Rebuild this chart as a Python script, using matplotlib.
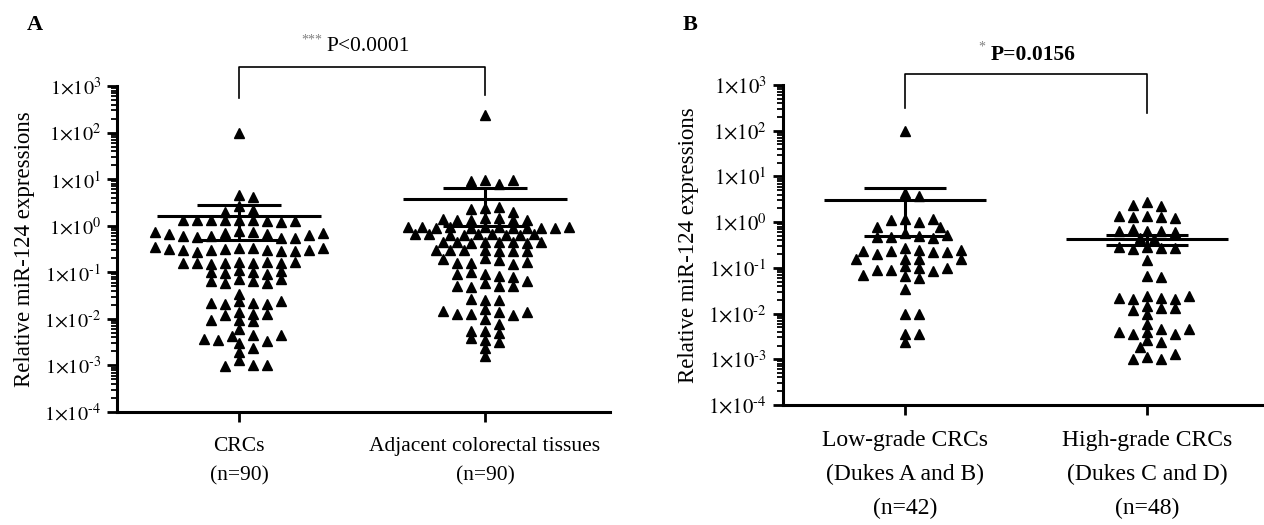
import numpy as np
import matplotlib
matplotlib.use("Agg")
import matplotlib.pyplot as plt
from matplotlib.ticker import FixedLocator, LogLocator, NullFormatter
from matplotlib.transforms import blended_transform_factory

plt.rcParams["font.family"] = "serif"
plt.rcParams["font.serif"] = ["Liberation Serif", "DejaVu Serif"]
plt.rcParams["mathtext.fontset"] = "stix"

# panel A: CRCs vs adjacent tissues (n=90 each)
crc = [100,
       4.5, 4.2,
       2.6, 2.2, 2.0,
       1.35, 1.3, 1.3, 1.25, 1.3, 1.2, 1.3, 1.25, 1.3,
       0.78, 0.75, 0.7, 0.65, 0.6, 0.55, 0.58, 0.55, 0.6, 0.62, 0.65, 0.7, 0.75,
       0.34, 0.33, 0.32, 0.3, 0.3, 0.28, 0.27, 0.28, 0.3, 0.3, 0.32, 0.33, 0.35,
       0.17, 0.16, 0.16, 0.17, 0.15, 0.16, 0.16, 0.17, 0.16,
       0.11, 0.1, 0.095, 0.09, 0.1, 0.105,
       0.07, 0.065, 0.06, 0.065, 0.07, 0.06,
       0.035,
       0.024, 0.022, 0.021, 0.021, 0.022, 0.024,
       0.014, 0.013, 0.012, 0.013,
       0.0095, 0.009, 0.0095,
       0.006,
       0.0045, 0.0042, 0.0035, 0.003, 0.0024, 0.0033, 0.0037, 0.0044,
       0.0019,
       0.0013, 0.001, 0.00095, 0.001]
adjacent = [235,
            9.5, 7.8, 9.2, 9.6,
            2.4, 2.5, 2.3, 2.0,
            1.5, 1.5, 1.35, 1.3, 1.3, 1.3, 1.4,
            0.95, 0.92, 0.9, 0.92, 0.88, 0.9, 0.9, 0.9, 0.93, 0.9, 0.95, 0.92,
            0.66, 0.65, 0.64, 0.62, 0.63, 0.65, 0.66, 0.64, 0.65,
            0.45, 0.44, 0.43, 0.44, 0.45, 0.43, 0.44, 0.45,
            0.3, 0.29, 0.3, 0.29, 0.3, 0.3, 0.29,
            0.2, 0.18, 0.16, 0.15, 0.16, 0.17, 0.19,
            0.09, 0.085, 0.1, 0.08, 0.09,
            0.06, 0.05, 0.048, 0.05, 0.052, 0.065,
            0.026, 0.025, 0.027,
            0.016, 0.014, 0.013, 0.012, 0.013, 0.014, 0.015,
            0.01, 0.0077,
            0.0055, 0.005, 0.0055,
            0.0036, 0.0032, 0.0038,
            0.0024,
            0.0016]
labels_a = ["CRCs\n(n=90)", "Adjacent colorectal tissues\n(n=90)"]
mean_a = [1.65, 3.7]
sd_a = [1.15, 2.7]

# panel B: low-grade (n=42) vs high-grade (n=48)
low_grade = [100,
             4.3, 3.8,
             1.15, 1.0, 1.1, 1.15,
             0.8, 0.8,
             0.58, 0.5, 0.47, 0.45, 0.48, 0.52,
             0.27, 0.24, 0.23, 0.22, 0.2, 0.22, 0.23, 0.25,
             0.16, 0.16, 0.16, 0.16,
             0.11, 0.1, 0.09, 0.085, 0.09, 0.1,
             0.065, 0.06, 0.07,
             0.035,
             0.01, 0.01,
             0.0036, 0.0036,
             0.0024]
high_grade = [2.8, 2.3, 2.4,
              1.35, 1.3, 1.3, 1.25, 1.35,
              0.65, 0.65, 0.7, 0.62, 0.65,
              0.45, 0.42,
              0.28, 0.27, 0.26, 0.27, 0.28,
              0.15,
              0.065, 0.062,
              0.024, 0.022, 0.021, 0.021, 0.022, 0.024,
              0.015, 0.013, 0.012, 0.013, 0.01,
              0.006,
              0.0045, 0.004, 0.0035, 0.0035, 0.004, 0.0045,
              0.0027, 0.0024,
              0.0019,
              0.0011, 0.001, 0.001, 0.0013]
labels_b = ["Low-grade CRCs\n(Dukes A and B)\n(n=42)", "High-grade CRCs\n(Dukes C and D)\n(n=48)"]
mean_b = [3.0, 0.42]
sd_b = [2.5, 0.1]

W, H = 1264, 525
fig = plt.figure(figsize=(W / 100, H / 100), dpi=100)


def swarm_x(ax, values, center, dx=14.0, dy=7.5):
    # beeswarm in pixel space, half-step candidates, elliptic collision test
    pts = ax.transData.transform(np.column_stack([np.full(len(values), center), values]))
    placed = []
    xs = []
    step = dx / 2
    for px, py in pts:
        k = 0
        done = False
        while not done:
            offs = [0] if k == 0 else [k * step, -k * step]
            if k % 2 == 1:
                offs = offs[::-1]
            for off in offs:
                ok = all(((px + off - qx) / dx) ** 2 + ((py - qy) / dy) ** 2 >= 0.97
                         for qx, qy in placed)
                if ok:
                    placed.append((px + off, py))
                    xs.append(ax.transData.inverted().transform((px + off, py))[0])
                    done = True
                    break
            k += 1
    return xs


def make_panel(box, xlim, groups, means, sds, labels, fs_tick, fs_x, lsp):
    l, r, t, b = box
    ax = fig.add_axes([l / W, (H - b) / H, (r - l) / W, (b - t) / H])
    ax.set_yscale("log")
    ax.set_ylim(1e-4, 1e3)
    ax.set_xlim(*xlim)
    for s in ["top", "right"]:
        ax.spines[s].set_visible(False)
    for s in ["left", "bottom"]:
        ax.spines[s].set_linewidth(2.2)
    ax.yaxis.set_major_locator(FixedLocator([10.0 ** e for e in range(-4, 4)]))
    ax.set_yticklabels([r"$1{\times}10^{\text{%d}}$" % e for e in range(-4, 4)], fontsize=fs_tick)
    ax.yaxis.set_minor_locator(LogLocator(base=10, subs=np.arange(2, 10)))
    ax.yaxis.set_minor_formatter(NullFormatter())
    ax.tick_params(axis="y", which="major", length=7, width=2, pad=4.5)
    ax.tick_params(axis="y", which="minor", length=4, width=1.3)
    ax.set_xticks([0, 1])
    ax.set_xticklabels(labels, fontsize=fs_x, linespacing=lsp)
    ax.tick_params(axis="x", length=7, width=2, pad=11)
    for i, vals in enumerate(groups):
        xs = swarm_x(ax, vals, i)
        ax.plot(xs, vals, "^", color="black", markersize=7, linestyle="none", clip_on=False)
        ax.hlines(means[i], i - 0.335, i + 0.335, color="black", lw=2.2)
        ax.hlines([means[i] + sds[i], means[i] - sds[i]], i - 0.17, i + 0.17, color="black", lw=2.2)
        ax.vlines(i, means[i] - sds[i], means[i] + sds[i], color="black", lw=2.2)
    ax.set_ylabel("Relative miR-124 expressions", fontsize=16.5, labelpad=6.5)
    return ax


ax_a = make_panel((117, 610, 86, 412), (-0.496, 1.508), [crc, adjacent],
                  mean_a, sd_a, labels_a, 14.5, 15.5, 1.75)
ax_b = make_panel((783, 1264, 85, 405), (-0.504, 1.483), [low_grade, high_grade],
                  mean_b, sd_b, labels_b, 15, 17, 1.8)

# significance brackets
tr = blended_transform_factory(ax_a.transData, ax_a.transAxes)
ax_a.plot([0, 0, 1, 1], [0.963, 1.059, 1.059, 0.972], color="black", lw=1.2,
          transform=tr, clip_on=False)
ax_a.text(0.337, 1.14, "***", transform=tr, ha="right", va="center", fontsize=10, color="#808080")
ax_a.text(0.354, 1.12, "P<0.0001", transform=tr, ha="left", va="center", fontsize=15.5)

tr = blended_transform_factory(ax_b.transData, ax_b.transAxes)
ax_b.plot([0, 0, 1, 1], [0.928, 1.034, 1.034, 0.913], color="black", lw=1.2,
          transform=tr, clip_on=False)
ax_b.text(0.33, 1.118, "*", transform=tr, ha="right", va="center", fontsize=10, color="#808080")
ax_b.text(0.355, 1.094, "P=0.0156", transform=tr, ha="left", va="center",
          fontsize=15.5, fontweight="bold")

fig.text(35 / W, 1 - 25 / H, "A", fontsize=16, fontweight="bold", ha="center", va="center")
fig.text(690 / W, 1 - 25 / H, "B", fontsize=16, fontweight="bold", ha="center", va="center")

fig.savefig("out.png", dpi=100)
